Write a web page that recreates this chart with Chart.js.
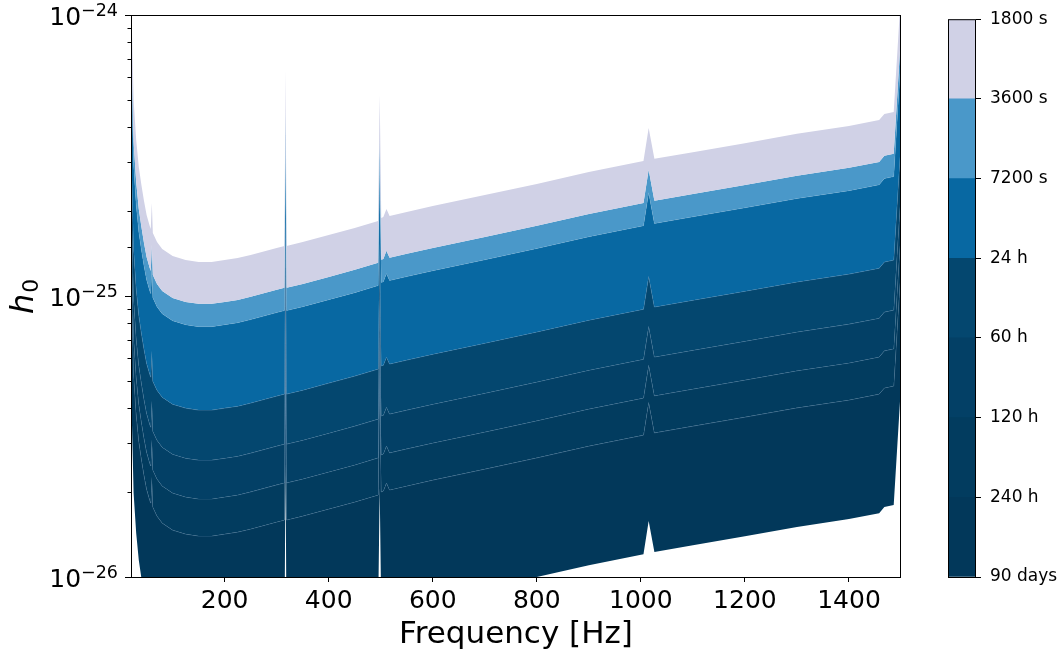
<!DOCTYPE html>
<html>
<head>
<meta charset="utf-8">
<script src="https://cdn.jsdelivr.net/npm/chart.js@4.4.1/dist/chart.umd.min.js"></script>
<style>
  body { margin: 0; background: #fff; }
  #wrap { position: relative; width: 1060px; height: 657px; }
  #sensChart { position: absolute; left: 0; top: 0; }
  #colorBar { position: absolute; left: 930px; top: 0; }
</style>
</head>
<body>
<div id="wrap">
  <canvas id="sensChart" width="930" height="657"></canvas>
  <canvas id="colorBar" width="130" height="657"></canvas>
</div>
<script>
// frequency grid [Hz]
const freqs = [20, 22, 25, 30, 35, 40, 45, 50, 56, 58,
  60, 62, 70, 80, 100, 125, 150, 175, 200, 225, 250,
  300, 315, 317, 319, 350, 400, 450, 495, 498, 501,
  505, 511, 517, 550, 600, 700, 800, 900, 1005, 1015,
  1026, 1100, 1200, 1300, 1400, 1458, 1468, 1486, 1500];

const h1800s = [-23.982, -24.064, -24.302, -24.445, -24.541, -24.605, -24.662, -24.712, -24.751, -24.762,
  -24.669, -24.776, -24.808, -24.833, -24.858, -24.872, -24.879, -24.879, -24.872, -24.865, -24.854,
  -24.829, -24.822, -24.196, -24.822, -24.808, -24.783, -24.758, -24.733, -24.285, -24.722,
  -24.719, -24.690, -24.715, -24.701, -24.680, -24.641, -24.601, -24.559, -24.520, -24.402,
  -24.512, -24.488, -24.456, -24.423, -24.395, -24.374, -24.352, -24.345, -23.918];
const h3600s = [-24.131, -24.213, -24.451, -24.594, -24.690, -24.754, -24.811, -24.861, -24.900, -24.911,
  -24.818, -24.925, -24.957, -24.982, -25.007, -25.021, -25.028, -25.028, -25.021, -25.014, -25.003,
  -24.978, -24.971, -24.345, -24.971, -24.957, -24.932, -24.907, -24.882, -24.434, -24.871,
  -24.868, -24.839, -24.864, -24.850, -24.829, -24.790, -24.750, -24.708, -24.669, -24.551,
  -24.661, -24.637, -24.605, -24.572, -24.544, -24.523, -24.501, -24.494, -24.067];
const h7200s = [-24.212, -24.294, -24.532, -24.675, -24.771, -24.835, -24.892, -24.942, -24.981, -24.992,
  -24.899, -25.006, -25.038, -25.063, -25.088, -25.102, -25.109, -25.109, -25.102, -25.095, -25.084,
  -25.059, -25.052, -24.426, -25.052, -25.038, -25.013, -24.988, -24.963, -24.515, -24.952,
  -24.949, -24.920, -24.945, -24.931, -24.910, -24.871, -24.831, -24.789, -24.750, -24.632,
  -24.742, -24.718, -24.686, -24.653, -24.625, -24.604, -24.582, -24.575, -24.148];
const h24h = [-24.509, -24.591, -24.829, -24.972, -25.068, -25.132, -25.189, -25.239, -25.278, -25.289,
  -25.196, -25.303, -25.335, -25.360, -25.385, -25.399, -25.406, -25.406, -25.399, -25.392, -25.381,
  -25.356, -25.349, -24.723, -25.349, -25.335, -25.310, -25.285, -25.260, -24.812, -25.249,
  -25.246, -25.217, -25.242, -25.228, -25.207, -25.168, -25.128, -25.086, -25.047, -24.929,
  -25.039, -25.015, -24.983, -24.950, -24.922, -24.901, -24.879, -24.872, -24.445];
const h60h = [-24.687, -24.769, -25.007, -25.150, -25.246, -25.310, -25.367, -25.417, -25.456, -25.467,
  -25.374, -25.481, -25.513, -25.538, -25.563, -25.577, -25.584, -25.584, -25.577, -25.570, -25.559,
  -25.534, -25.527, -24.901, -25.527, -25.513, -25.488, -25.463, -25.438, -24.990, -25.427,
  -25.424, -25.395, -25.420, -25.406, -25.385, -25.346, -25.306, -25.264, -25.225, -25.107,
  -25.217, -25.193, -25.161, -25.128, -25.100, -25.079, -25.057, -25.050, -24.623];
const h120h = [-24.825, -24.907, -25.145, -25.288, -25.384, -25.448, -25.505, -25.555, -25.594, -25.605,
  -25.512, -25.619, -25.651, -25.676, -25.701, -25.715, -25.722, -25.722, -25.715, -25.708, -25.697,
  -25.672, -25.665, -25.039, -25.665, -25.651, -25.626, -25.601, -25.576, -25.128, -25.565,
  -25.562, -25.533, -25.558, -25.544, -25.523, -25.484, -25.444, -25.402, -25.363, -25.245,
  -25.355, -25.331, -25.299, -25.266, -25.238, -25.217, -25.195, -25.188, -24.761];
const h240h = [-24.957, -25.039, -25.277, -25.420, -25.516, -25.580, -25.637, -25.687, -25.726, -25.737,
  -25.644, -25.751, -25.783, -25.808, -25.833, -25.847, -25.854, -25.854, -25.847, -25.840, -25.829,
  -25.804, -25.797, -25.171, -25.797, -25.783, -25.758, -25.733, -25.708, -25.260, -25.697,
  -25.694, -25.665, -25.690, -25.676, -25.655, -25.616, -25.576, -25.534, -25.495, -25.377,
  -25.487, -25.463, -25.431, -25.398, -25.370, -25.349, -25.327, -25.320, -24.893];
const h90d = [-25.381, -25.463, -25.701, -25.844, -25.940, -26.004, -26.061, -26.111, -26.150, -26.161,
  -26.068, -26.175, -26.207, -26.232, -26.257, -26.271, -26.278, -26.278, -26.271, -26.264, -26.253,
  -26.228, -26.221, -25.595, -26.221, -26.207, -26.182, -26.157, -26.132, -25.684, -26.121,
  -26.118, -26.089, -26.114, -26.100, -26.079, -26.040, -26.000, -25.958, -25.919, -25.801,
  -25.911, -25.887, -25.855, -25.822, -25.794, -25.773, -25.751, -25.744, -25.317];

const curveNames = ['1800 s', '3600 s', '7200 s', '24 h', '60 h', '120 h', '240 h', '90 days'];
const xTicks = [200, 400, 600, 800, 1000, 1200, 1400];
const yTickVals = [1e-26, 1e-25, 1e-24];
const yTickExps = ['\u221226', '\u221225', '\u221224'];
const cbLabels = ['90 days', '240 h', '120 h', '60 h', '24 h', '7200 s', '3600 s', '1800 s'];

// band colours, top band (1800 s - 3600 s) first
const bandColors = ['#d0d1e6', '#4a98c9', '#0868a2', '#04476f', '#034066', '#023c5f', '#02385a'];
const lineColors = ['rgba(0,0,0,0)', 'rgba(0,0,0,0)', 'rgba(200,220,240,0.25)',
  'rgba(120,160,200,0.55)', 'rgba(120,160,200,0.55)', 'rgba(120,160,200,0.55)',
  'rgba(120,160,200,0.55)', 'rgba(0,0,0,0)'];

Chart.defaults.font.family = '"DejaVu Sans"';
Chart.defaults.color = '#000';

const curves = [h1800s, h3600s, h7200s, h24h, h60h, h120h, h240h, h90d];

function isPow10(v) {
    const l = Math.log10(v);
    return Math.abs(l - Math.round(l)) < 1e-6;
}

// frame, y ticks with superscript labels and y title
const axisDeco = {
    id: 'axisDeco',
    afterDraw(chart) {
        const { ctx, chartArea: a, scales: { y } } = chart;
        ctx.save();
        ctx.strokeStyle = '#000';
        ctx.lineWidth = 1;
        y.ticks.forEach(t => {
            const py = Math.round(y.getPixelForValue(t.value)) + 0.5;
            const len = isPow10(t.value) ? 6 : 3.5;
            ctx.beginPath();
            ctx.moveTo(a.left - len, py);
            ctx.lineTo(a.left, py);
            ctx.stroke();
        });
        ctx.strokeRect(a.left + 0.5, a.top + 0.5, a.right - a.left - 1, a.bottom - a.top);

        ctx.fillStyle = '#000';
        ctx.textBaseline = 'alphabetic';
        ctx.textAlign = 'right';
        yTickVals.forEach((v, i) => {
            const py = y.getPixelForValue(v);
            ctx.font = '17.5px "DejaVu Sans"';
            ctx.fillText(yTickExps[i], 118, py + 0.5);
            const w = ctx.measureText(yTickExps[i]).width;
            ctx.font = '25px "DejaVu Sans"';
            ctx.fillText('10', 118 - w, py + 9.5);
        });

        // y title h_0
        ctx.translate(33, 314);
        ctx.rotate(-Math.PI / 2);
        ctx.textAlign = 'left';
        ctx.font = 'italic 32px "DejaVu Sans"';
        ctx.fillText('h', 0, 0);
        const hw = ctx.measureText('h').width;
        ctx.font = '22px "DejaVu Sans"';
        ctx.fillText('0', hw + 1, 5);
        ctx.restore();
    }
};

new Chart(document.getElementById('sensChart'), {
    type: 'line',
    data: {
        datasets: curves.map((c, i) => ({
            label: curveNames[i],
            data: freqs.map((f, j) => ({ x: f, y: Math.pow(10, c[j]) })),
            fill: i < curves.length - 1 ? '+1' : false,
            backgroundColor: bandColors[i] || 'rgba(0,0,0,0)',
            borderColor: lineColors[i],
            borderWidth: 0.7,
            pointRadius: 0,
            tension: 0
        }))
    },
    options: {
        responsive: false,
        animation: false,
        layout: { padding: { left: 0, right: 29, top: 15, bottom: 0 } },
        plugins: { legend: { display: false }, tooltip: { enabled: false } },
        scales: {
            x: {
                type: 'linear',
                min: 20,
                max: 1500,
                afterBuildTicks: s => { s.ticks = xTicks.map(v => ({ value: v })); },
                afterFit: s => { s.height = 80; },
                ticks: { font: { size: 25 }, color: '#000', padding: 4, maxRotation: 0, autoSkip: false,
                         callback: v => String(v) },
                grid: { drawOnChartArea: false, tickLength: 5, tickColor: '#000', tickWidth: 1 },
                border: { display: false },
                title: { display: true, text: 'Frequency [Hz]', font: { size: 31 }, color: '#000', padding: { top: 0, bottom: 3 } }
            },
            y: {
                type: 'logarithmic',
                min: 1e-26,
                max: 1e-24,
                afterFit: s => { s.width = 131; },
                ticks: { display: false },
                grid: { display: false },
                border: { display: false }
            }
        }
    },
    plugins: [axisDeco]
});

// colour bar
const barFrame = {
    id: 'barFrame',
    afterDraw(chart) {
        const { ctx, chartArea: a } = chart;
        ctx.save();
        ctx.strokeStyle = '#000';
        ctx.lineWidth = 1;
        ctx.strokeRect(a.left + 0.5, a.top + 0.5, a.right - a.left - 1, a.bottom - a.top);
        ctx.restore();
    }
};

new Chart(document.getElementById('colorBar'), {
    type: 'bar',
    data: {
        labels: [''],
        datasets: bandColors.slice().reverse().map((c, k) => ({
            data: [[k, k + 1]],
            backgroundColor: c,
            borderWidth: 0,
            barPercentage: 1,
            categoryPercentage: 1,
            grouped: false
        }))
    },
    options: {
        responsive: false,
        animation: false,
        layout: { padding: { left: 18, right: 0, top: 15, bottom: 80 } },
        plugins: { legend: { display: false }, tooltip: { enabled: false } },
        scales: {
            x: { display: false },
            y: {
                position: 'right',
                min: 0,
                max: 7,
                afterFit: s => { s.width = 84; },
                ticks: { stepSize: 1, callback: (v, i) => cbLabels[i], font: { size: 17 }, color: '#000', padding: 9 },
                grid: { drawOnChartArea: false, tickLength: 5, tickColor: '#000' },
                border: { display: false }
            }
        }
    },
    plugins: [barFrame]
});
</script>
</body>
</html>
